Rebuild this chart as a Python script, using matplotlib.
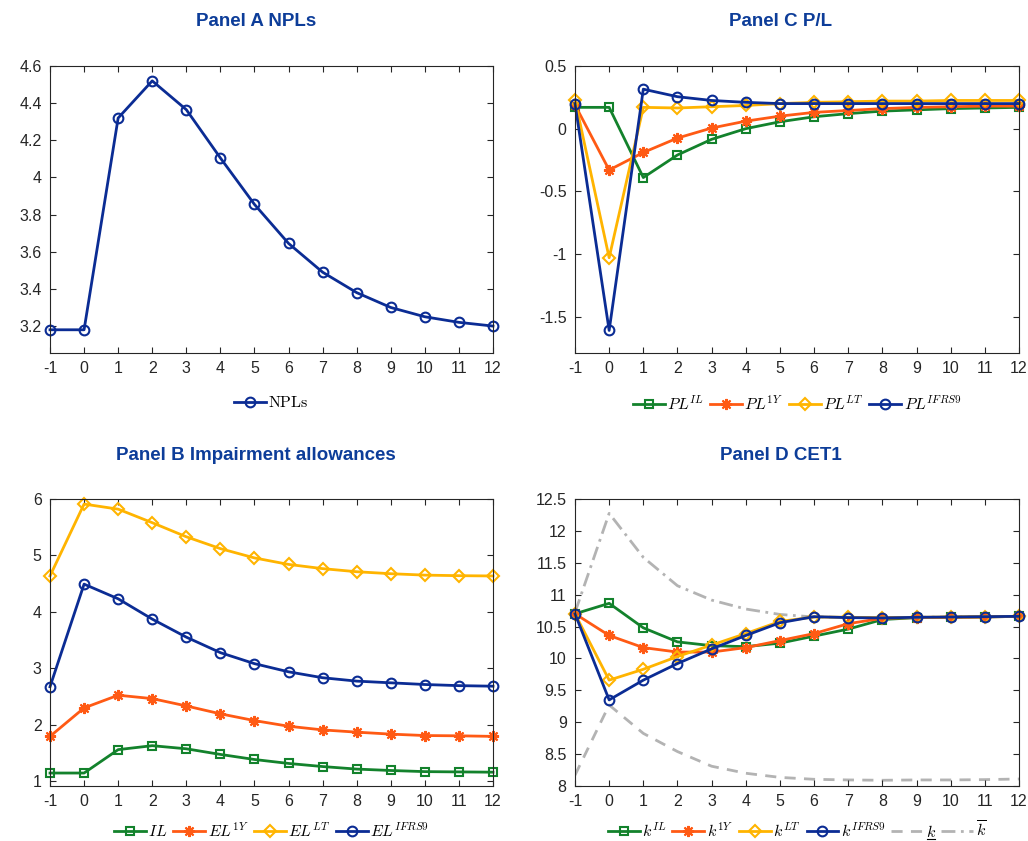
import matplotlib
matplotlib.use("Agg")
import matplotlib.pyplot as plt
from matplotlib.lines import Line2D
import numpy as np

plt.rcParams['font.family'] = ['Liberation Sans', 'DejaVu Sans']
plt.rcParams['mathtext.fontset'] = 'cm'
plt.rcParams['axes.unicode_minus'] = False

# ---------------- data ----------------
quarters = [-1, 0, 1, 2, 3, 4, 5, 6, 7, 8, 9, 10, 11, 12]
xtick_labels = [str(q) for q in quarters]

npl = [3.18, 3.18, 4.32, 4.52, 4.365, 4.105, 3.855, 3.645, 3.49, 3.38, 3.30, 3.25, 3.22, 3.20]

pl_il = [0.17, 0.17, -0.39, -0.21, -0.085, 0.0, 0.055, 0.095, 0.12, 0.14, 0.15, 0.16, 0.165, 0.17]
pl_1y = [0.19, -0.33, -0.19, -0.075, 0.005, 0.06, 0.10, 0.13, 0.145, 0.16, 0.17, 0.175, 0.18, 0.18]
pl_lt = [0.23, -1.03, 0.17, 0.165, 0.175, 0.185, 0.20, 0.21, 0.215, 0.22, 0.22, 0.225, 0.225, 0.225]
pl_ifrs9 = [0.20, -1.61, 0.315, 0.255, 0.225, 0.21, 0.20, 0.20, 0.20, 0.20, 0.20, 0.20, 0.20, 0.20]

el_il = [1.14, 1.14, 1.555, 1.625, 1.57, 1.47, 1.38, 1.31, 1.255, 1.21, 1.185, 1.165, 1.16, 1.155]
el_1y = [1.79, 2.295, 2.52, 2.46, 2.33, 2.19, 2.07, 1.97, 1.905, 1.865, 1.83, 1.805, 1.80, 1.79]
el_lt = [4.635, 5.91, 5.82, 5.58, 5.33, 5.12, 4.955, 4.84, 4.765, 4.71, 4.675, 4.65, 4.64, 4.635]
el_ifrs9 = [2.67, 4.49, 4.23, 3.87, 3.55, 3.275, 3.08, 2.935, 2.83, 2.77, 2.74, 2.71, 2.69, 2.68]

k_il = [10.70, 10.864, 10.48, 10.26, 10.20, 10.185, 10.24, 10.35, 10.46, 10.61, 10.64, 10.645, 10.65, 10.66]
k_1y = [10.70, 10.36, 10.17, 10.10, 10.10, 10.17, 10.28, 10.39, 10.545, 10.63, 10.64, 10.645, 10.65, 10.66]
k_lt = [10.70, 9.66, 9.83, 10.03, 10.21, 10.39, 10.58, 10.65, 10.645, 10.64, 10.645, 10.65, 10.655, 10.66]
k_ifrs9 = [10.70, 9.35, 9.66, 9.92, 10.15, 10.36, 10.56, 10.655, 10.64, 10.635, 10.645, 10.65, 10.655, 10.66]
k_lower = [8.17, 9.27, 8.825, 8.54, 8.31, 8.20, 8.135, 8.105, 8.095, 8.09, 8.095, 8.095, 8.10, 8.11]
k_upper = [10.72, 12.275, 11.585, 11.14, 10.915, 10.775, 10.69, 10.65, 10.645, 10.64, 10.645, 10.65, 10.655, 10.66]

# ---------------- styles ----------------
GREEN = '#13822c'
ORANGE = '#ff5a14'
YELLOW = '#ffb400'
BLUE = '#0b2c94'
GRAY = '#b3b3b3'
TITLE = '#0d3d99'
LW = 2.0

fig = plt.figure(figsize=(10.28, 8.41), dpi=100)
W, H = 1028, 841


def mk_axes(l, r, t, b):
    return fig.add_axes([l / W, 1 - b / H, (r - l) / W, (b - t) / H])


def style(ax, ylim, yticks, ylabels):
    ax.set_xlim(-1, 12)
    ax.set_xticks(quarters)
    ax.set_xticklabels(xtick_labels)
    ax.set_ylim(*ylim)
    ax.set_yticks(yticks)
    ax.set_yticklabels(ylabels)
    ax.tick_params(direction='in', top=True, right=True, length=4, width=0.8,
                   labelsize=11.5, colors='#262626', pad=6)
    for s in ax.spines.values():
        s.set_linewidth(0.8)
        s.set_color('#262626')


def series(ax, y, color, marker, label, ms=6, ls='-'):
    ax.plot(quarters, y, color=color, lw=LW, ls=ls, marker=marker, ms=ms,
            mfc='none', mec=color, mew=1.5, label=label, clip_on=False)


STAR = (8, 2, 0)

# Panel A
axA = mk_axes(50, 493, 66, 353)
series(axA, npl, BLUE, 'o', r'$\mathrm{NPLs}$', ms=7)
style(axA, (3.055, 4.6), [3.2, 3.4, 3.6, 3.8, 4.0, 4.2, 4.4, 4.6],
      ['3.2', '3.4', '3.6', '3.8', '4', '4.2', '4.4', '4.6'])

# Panel C
axC = mk_axes(575, 1019, 66, 353)
series(axC, pl_il, GREEN, 's', r'$PL^{IL}$', ms=5.5)
series(axC, pl_1y, ORANGE, STAR, r'$PL^{1Y}$', ms=8)
series(axC, pl_lt, YELLOW, 'D', r'$PL^{LT}$', ms=6)
series(axC, pl_ifrs9, BLUE, 'o', r'$PL^{IFRS9}$', ms=7)
style(axC, (-1.79, 0.5), [-1.5, -1, -0.5, 0, 0.5], ['-1.5', '-1', '-0.5', '0', '0.5'])

# Panel B
axB = mk_axes(50, 493, 499, 786)
series(axB, el_il, GREEN, 's', r'$IL$', ms=5.5)
series(axB, el_1y, ORANGE, STAR, r'$EL^{1Y}$', ms=8)
series(axB, el_lt, YELLOW, 'D', r'$EL^{LT}$', ms=6)
series(axB, el_ifrs9, BLUE, 'o', r'$EL^{IFRS9}$', ms=7)
style(axB, (0.91, 6), [1, 2, 3, 4, 5, 6], ['1', '2', '3', '4', '5', '6'])

# Panel D
axD = mk_axes(575, 1019, 499, 786)
axD.plot(quarters, k_lower, color=GRAY, lw=LW, ls=(0, (4, 3)), zorder=1)
axD.plot(quarters, k_upper, color=GRAY, lw=LW, ls=(0, (5, 2, 1, 2)), zorder=1)
series(axD, k_il, GREEN, 's', r'$k^{IL}$', ms=5.5)
series(axD, k_1y, ORANGE, STAR, r'$k^{1Y}$', ms=8)
series(axD, k_lt, YELLOW, 'D', r'$k^{LT}$', ms=6)
series(axD, k_ifrs9, BLUE, 'o', r'$k^{IFRS9}$', ms=7)
style(axD, (8, 12.5), [8, 8.5, 9, 9.5, 10, 10.5, 11, 11.5, 12, 12.5],
      ['8', '8.5', '9', '9.5', '10', '10.5', '11', '11.5', '12', '12.5'])
hD, lD = axD.get_legend_handles_labels()
hD += [Line2D([], [], color=GRAY, lw=LW, ls=(0, (4, 3))),
       Line2D([], [], color=GRAY, lw=LW, ls=(0, (5, 2, 1, 2)))]
lD += [r'$k$', r'$\overline{k}$']

# legends (placed in figure pixel coordinates)
legs = {}
for ax, ypx in [(axA, 403), (axC, 403), (axB, 830), (axD, 830)]:
    pos = ax.get_position()
    xc = pos.x0 + pos.width / 2
    kw = dict(loc='center', bbox_to_anchor=(xc, 1 - ypx / H), bbox_transform=fig.transFigure,
              ncol=6, frameon=False, fontsize=11.5, handlelength=2.0, handletextpad=0.15,
              columnspacing=0.35, borderaxespad=0)
    if ax is axD:
        legs[ax] = ax.legend(hD, lD, **kw)
    else:
        legs[ax] = ax.legend(**kw)

# titles
for txt, xpx, ypx in [('Panel A NPLs', 256, 22), ('Panel C P/L', 781, 22),
                      ('Panel B Impairment allowances', 256, 456), ('Panel D CET1', 781, 456)]:
    fig.text(xpx / W, 1 - ypx / H, txt, ha='center', va='center', fontsize=13.5,
             fontweight='bold', color=TITLE)

# underline for the lower-bound k in legend
fig.canvas.draw()
renderer = fig.canvas.get_renderer()
ktxt = legs[axD].get_texts()[4]
bb = ktxt.get_window_extent(renderer)
inv = fig.transFigure.inverted()
(x0, y0) = inv.transform((bb.x0 + 1, bb.y0 + 1.5))
(x1, _) = inv.transform((bb.x1 - 1, bb.y0 + 1.5))
fig.add_artist(Line2D([x0, x1], [y0, y0], transform=fig.transFigure, color='black', lw=0.8))

fig.savefig('out.png', dpi=100)
